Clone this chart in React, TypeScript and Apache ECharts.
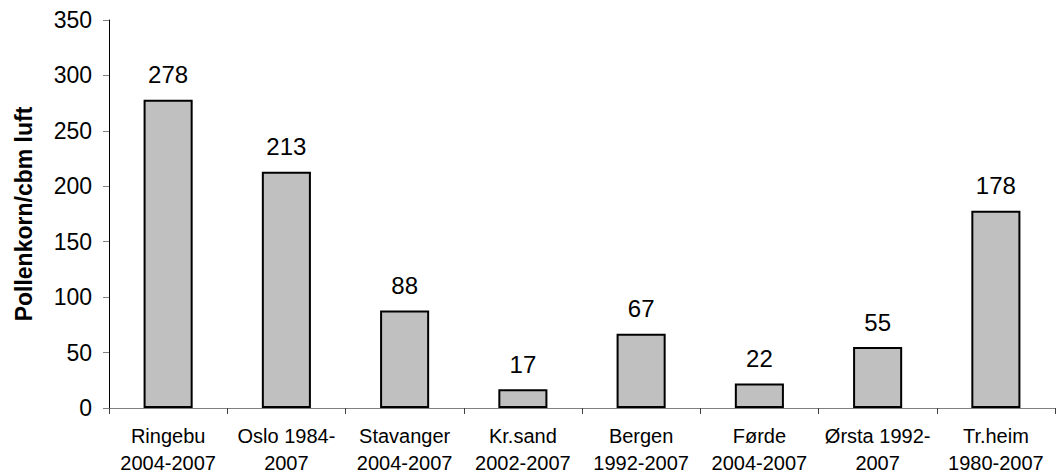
import React, { useEffect, useRef } from "react";
import * as echarts from "echarts";

const categories = [
  "Ringebu\n2004-2007",
  "Oslo 1984-\n2007",
  "Stavanger\n2004-2007",
  "Kr.sand\n2002-2007",
  "Bergen\n1992-2007",
  "Førde\n2004-2007",
  "Ørsta 1992-\n2007",
  "Tr.heim\n1980-2007",
];
const values = [278, 213, 88, 17, 67, 22, 55, 178];
const yTicks = { min: 0, max: 350, interval: 50 };
const yName = "Pollenkorn/cbm luft";

export default function App() {
  const ref = useRef<HTMLDivElement>(null);
  useEffect(() => {
    const chart = echarts.init(ref.current!, null, { renderer: "svg" });
    const font = "'Liberation Sans', Arial, sans-serif";
    chart.setOption({
      animation: false,
      textStyle: { fontFamily: font },
      grid: { left: 109, right: 4, top: 20, bottom: 67, containLabel: false },
      xAxis: {
        type: "category",
        data: categories,
        axisLine: { lineStyle: { color: "#808080", width: 1 } },
        axisTick: { show: true, alignWithLabel: false, length: 6, lineStyle: { color: "#404040" } },
        axisLabel: {
          color: "#000",
          fontSize: 20,
          fontFamily: font,
          lineHeight: 27,
          margin: 14,
          interval: 0,
        },
      },
      yAxis: {
        type: "value",
        min: yTicks.min,
        max: yTicks.max,
        interval: yTicks.interval,
        name: yName,
        nameLocation: "middle",
        nameGap: 74,
        nameRotate: 90,
        nameTextStyle: { color: "#000", fontSize: 23, fontWeight: "bold", fontFamily: font },
        axisLine: { show: true, lineStyle: { color: "#000", width: 1 } },
        axisTick: { show: true, length: 6, lineStyle: { color: "#808080" } },
        splitLine: { show: false },
        axisLabel: { color: "#000", fontSize: 23, fontFamily: font, margin: 17 },
      },
      series: [
        {
          type: "bar",
          data: values,
          barWidth: "41.5%",
          itemStyle: { color: "#c0c0c0", borderColor: "#000", borderWidth: 2 },
          label: {
            show: true,
            position: "top",
            distance: 13,
            color: "#000",
            fontSize: 24,
            fontFamily: font,
          },
        },
      ],
    });
    return () => chart.dispose();
  }, []);
  return <div ref={ref} style={{ width: 1059, height: 476, position: "absolute", left: 0, top: 0, background: "#fff" }} />;
}
